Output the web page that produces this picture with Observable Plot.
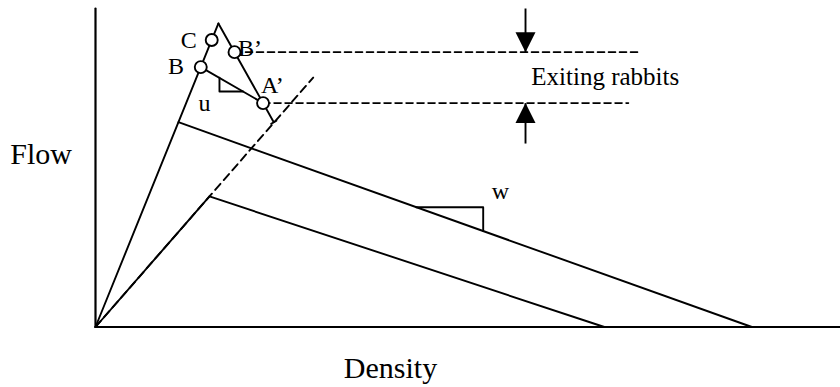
<!DOCTYPE html>
<html>
<head>
<meta charset="utf-8">
<script src="https://cdn.jsdelivr.net/npm/d3@7"></script>
<script src="https://cdn.jsdelivr.net/npm/@observablehq/plot@0.6"></script>
<style>
  html, body { margin: 0; padding: 0; background: #fff; }
  #chart svg { display: block; }
</style>
</head>
<body>
<div id="chart"></div>
<script>
// Diagram values: [density, flow]
const upperFree = [[0, 0], [16.5, 95.3]];
const upperCongested = [[11.13, 64.3], [88.1, 0]];
const rightBranch = [[16.5, 95.3], [23.93, 64.3]];
const branchTick = [[23.58, 63.83], [24.28, 64.77]];
const lowerFree = [[0, 0], [15.3, 41.0]];
const lowerFreeExtended = [[0, 0], [29.22, 78.3]];
const lowerCongested = [[15.3, 41.0], [68.3, 0]];
const waveBA = [[14.13, 81.6], [22.49, 70.3]];
const uTriangle = [[16.64, 78.24], [16.64, 73.94], [19.81, 73.94]];
const wTriangle = [[43.04, 37.61], [52.04, 37.61], [52.04, 30.11]];
const densityAxis = [[0, 0], [100, 0]];
const flowAxis = [[0, 0], [0, 100]];

const states = [
  {name: "C", k: 15.6, q: 90.1},
  {name: "B", k: 14.13, q: 81.6},
  {name: "B’", k: 18.66, q: 86.3},
  {name: "A’", k: 22.49, q: 70.3}
];
const exitLines = [
  [[18.66, 86.3], [73.15, 86.3]],
  [[22.49, 70.3], [71.54, 70.3]]
];
const arrowK = 57.72;
const arrowShafts = [
  {q1: 100, q2: 86.3, dir: "down"},
  {q1: 57.6, q2: 70.3, dir: "up"}
];

const pointLabels = [
  {text: "C", k: 12.5, q: 89.9, anchor: "middle"},
  {text: "B", k: 10.8, q: 81.9, anchor: "middle"},
  {text: "B’", k: 20.75, q: 87.4, anchor: "start"},
  {text: "A’", k: 23.75, q: 75.9, anchor: "start"},
  {text: "u", k: 14.63, q: 70.3, anchor: "middle"},
  {text: "w", k: 54.36, q: 42.7, anchor: "middle"}
];
const axisLabels = [
  {text: "Flow", k: -7.3, q: 54.25},
  {text: "Density", k: 39.6, q: -12.84}
];
const noteLabel = [{text: "Exiting rabbits", k: 58.5, q: 78.34}];

const serif = "Liberation Serif, Times New Roman, serif";
const px = d => d[0], py = d => d[1];

const downHead = {draw(ctx) { ctx.moveTo(0, 0); ctx.lineTo(-10, -20); ctx.lineTo(10, -20); ctx.closePath(); }};
const upHead = {draw(ctx) { ctx.moveTo(0, 0); ctx.lineTo(-10, 20); ctx.lineTo(10, 20); ctx.closePath(); }};

const lineOpts = {x: px, y: py, stroke: "black", strokeWidth: 1.9};

const chart = Plot.plot({
  width: 840,
  height: 387,
  marginLeft: 95,
  marginRight: 0,
  marginTop: 8,
  marginBottom: 60.5,
  x: {domain: [0, 100], axis: null},
  y: {domain: [0, 100], axis: null},
  style: {background: "white", fontFamily: serif},
  marks: [
    Plot.line(densityAxis, {...lineOpts, strokeWidth: 2.2}),
    Plot.line(flowAxis, {...lineOpts, strokeWidth: 2.2}),
    Plot.line(lowerFreeExtended, {...lineOpts, strokeDasharray: "8,5"}),
    Plot.line(lowerFree, lineOpts),
    Plot.line(lowerCongested, lineOpts),
    Plot.line(upperFree, lineOpts),
    Plot.line(upperCongested, lineOpts),
    Plot.line(rightBranch, lineOpts),
    Plot.line(branchTick, lineOpts),
    Plot.line(waveBA, lineOpts),
    Plot.line(uTriangle, lineOpts),
    Plot.line(wTriangle, lineOpts),
    ...exitLines.map(seg => Plot.line(seg, {...lineOpts, strokeWidth: 1.6, strokeDasharray: "7,4"})),
    Plot.link(arrowShafts, {x1: arrowK, x2: arrowK, y1: "q1", y2: "q2", stroke: "black", strokeWidth: 1.9}),
    Plot.dot(arrowShafts.filter(d => d.dir === "down"), {x: arrowK, y: "q2", symbol: downHead, fill: "black", stroke: "none"}),
    Plot.dot(arrowShafts.filter(d => d.dir === "up"), {x: arrowK, y: "q2", symbol: upHead, fill: "black", stroke: "none"}),
    Plot.dot(states, {x: "k", y: "q", r: 6, fill: "white", stroke: "black", strokeWidth: 1.9}),
    Plot.text(pointLabels, {x: "k", y: "q", text: "text", textAnchor: "anchor", fontSize: 24, fontFamily: serif, fill: "black"}),
    Plot.text(axisLabels, {x: "k", y: "q", text: "text", fontSize: 30, fontFamily: serif, fill: "black"}),
    Plot.text(noteLabel, {x: "k", y: "q", text: "text", textAnchor: "start", fontSize: 25, fontFamily: serif, fill: "black"})
  ]
});
document.getElementById("chart").appendChild(chart);
</script>
</body>
</html>
